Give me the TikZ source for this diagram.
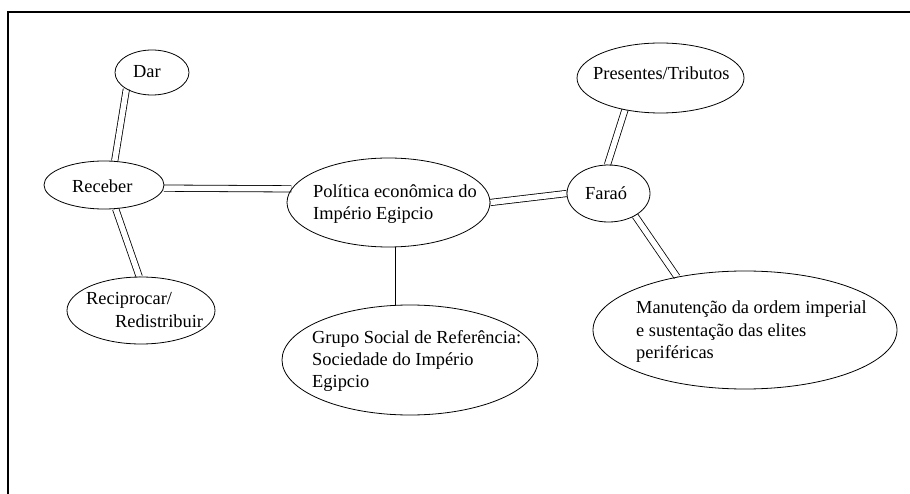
\documentclass[tikz,border=0pt]{standalone}
\usepackage{fontspec}
\setmainfont{Liberation Serif}
\usetikzlibrary{shapes.geometric,backgrounds}
\tikzset{
  oval/.style={draw, ellipse, line width=0.8pt, inner sep=0pt},
  txt/.style={anchor=base west, inner sep=0pt, font=\fontsize{18.4}{22}\selectfont},
  dbl/.style={draw, double, double distance=5.5pt, line width=0.8pt},
  sgl/.style={draw, line width=0.9pt},
}
\begin{document}
\begin{tikzpicture}[x=1pt, y=-1pt]
\useasboundingbox (0,0) rectangle (910,494);
% frame
\draw[line width=2pt] (8.3,494) -- (8.3,11.7) -- (910,11.7);

% ellipses
\node[oval, minimum width=74pt,  minimum height=45pt]  (dar) at (152,72.5) {};
\node[oval, minimum width=120pt, minimum height=48pt]  (rec) at (104,185) {};
\node[oval, minimum width=148pt, minimum height=67pt]  (rcp) at (141,310.5) {};
\node[oval, minimum width=203pt, minimum height=89pt]  (pol) at (388.5,202.5) {};
\node[oval, minimum width=256pt, minimum height=110pt] (grp) at (410,360) {};
\node[oval, minimum width=83pt,  minimum height=57pt]  (far) at (608.5,193.5) {};
\node[oval, minimum width=167pt, minimum height=70pt]  (pre) at (660.5,78) {};
\node[oval, minimum width=304pt, minimum height=118pt] (man) at (745,330) {};

% texts
\node[txt] (tdar) at (133,78) {Dar};
\node[txt] (trec) at (72,193) {Receber};
\node[txt] (trcp1) at (86,305) {Reciprocar/};
\node[txt] (trcp2) at (115,327) {Redistribuir};
\node[txt] (tpol1) at (313,198) {Política econômica do};
\node[txt] (tpol2) at (313,220) {Império Egipcio};
\node[txt] (tgrp1) at (312,343) {Grupo Social de Referência:};
\node[txt] (tgrp2) at (312,365) {Sociedade do Império};
\node[txt] (tgrp3) at (312,387) {Egipcio};
\node[txt] (tfar) at (585,200) {Faraó};
\node[txt] (tpre) at (593,80) {Presentes/Tributos};
\node[txt] (tman1) at (636,313) {Manutenção da ordem imperial};
\node[txt] (tman2) at (636,336) {e sustentação das elites};
\node[txt] (tman3) at (636,358) {periféricas};

% connectors
\begin{scope}[on background layer]
\path[dbl] (dar.213) -- (rec.66);
\path[dbl] (rec.296) -- (rcp.93);
\path[dbl] (rec.-3) -- (pol.172);
\path[dbl] (pol.east) -- (far.west);
\path[dbl] (far.92) -- (pre.222);
\path[dbl] (far.320) -- (man.142);
\path[sgl] ([xshift=6.5pt]pol.south) -- ([xshift=6.5pt]pol.south |- grp.north);
\end{scope}
\end{tikzpicture}
\end{document}
